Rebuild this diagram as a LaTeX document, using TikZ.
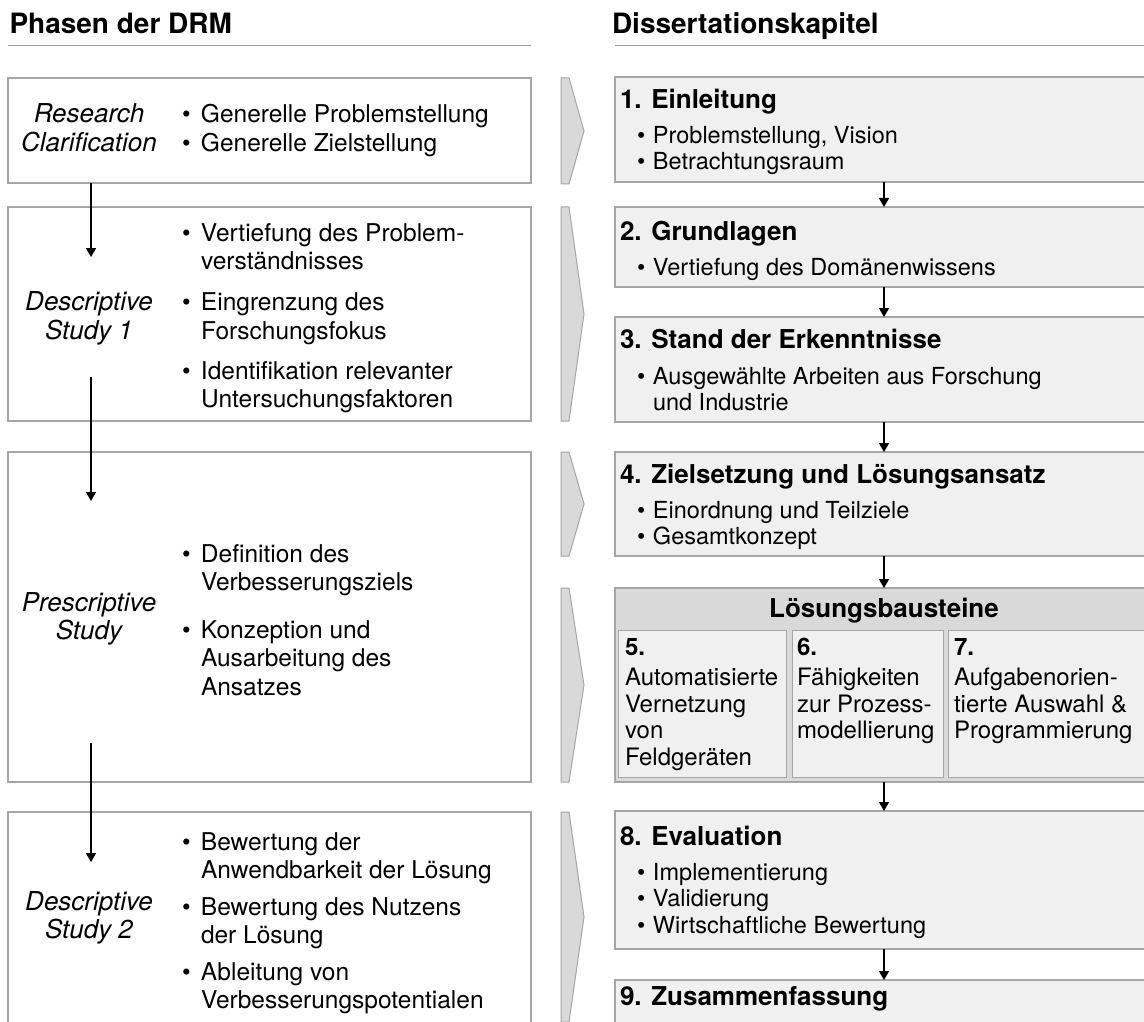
\documentclass[tikz,border=0pt]{standalone}
\usepackage{fontspec}
\setmainfont{TeX Gyre Heros}
\usetikzlibrary{arrows.meta}

\definecolor{frame}{HTML}{A6A6A6}
\definecolor{chapfill}{HTML}{F0F0F0}
\definecolor{groupfill}{HTML}{D9D9D9}
\definecolor{chevfill}{HTML}{D9D9D9}
\definecolor{rulegray}{HTML}{999999}

% bullets with a fixed hanging indent
\newcommand{\lbul}{\makebox[19pt][l]{•}}
\newcommand{\rbul}{\makebox[16pt][l]{•}}
% thin arrow-shaped marker between the two columns
\newcommand{\chevron}[2]{\draw[chev] (561,#1) -- (569,#1) -- (584,{(#1+#2)/2}) -- (569,#2) -- (561,#2) -- cycle;}

\begin{document}
\begin{tikzpicture}[x=1pt,y=-1pt,
  every node/.style={inner sep=0pt, outer sep=0pt},
  panel/.style={draw=frame, line width=1.2pt, anchor=north west, fill=white},
  chap/.style={panel, fill=chapfill},
  grp/.style={panel, fill=groupfill},
  chev/.style={draw=frame, line width=1pt, fill=chevfill},
  flow/.style={line width=1.6pt, -{Triangle[width=10pt,length=9pt]}},
  hdr/.style={anchor=base west, font=\fontsize{28}{32}\selectfont\bfseries},
  hrule/.style={draw=rulegray, line width=1.5pt},
  phase/.style={anchor=base, font=\fontsize{26}{28.5}\selectfont\itshape},
  litem/.style={anchor=base west, font=\fontsize{24.5}{28.5}\selectfont},
  ctitle/.style={anchor=base west, font=\fontsize{26}{30}\selectfont\bfseries},
  citem/.style={anchor=base west, font=\fontsize{23.5}{26.5}\selectfont},
  sitem/.style={anchor=base west, font=\fontsize{24}{26.5}\selectfont},
]
\useasboundingbox (0,0) rectangle (1144,1022);
\fill[white] (0,0) rectangle (1144,1022);
\clip (0,0) rectangle (1144,1022);

% ---------- column headers ----------
\node[hdr] (hl) at (9.5,33.5) {Phasen der DRM};
\node[hdr] (hr) at (612,33.5) {Dissertationskapitel};
\draw[hrule] (8,45.5) -- (531,45.5);
\draw[hrule] (615,45.5) -- (1144,45.5);

% ---------- DRM phases ----------
\node[panel, minimum width=523pt, minimum height=105pt] (ph1) at (8,78) {};
\node[panel, minimum width=523pt, minimum height=214pt] (ph2) at (8,207) {};
\node[panel, minimum width=523pt, minimum height=330pt] (ph3) at (8,452) {};
\node[panel, minimum width=523pt, minimum height=230pt] (ph4) at (8,812) {};

\node[phase] (lb1) at (89,123) {\begin{tabular}[t]{@{}c@{}}Research\\[0.5pt] Clarification\end{tabular}};
\node[phase] (lb2) at (89,310.5) {\begin{tabular}[t]{@{}c@{}}Descriptive\\ Study 1\end{tabular}};
\node[phase] (lb3) at (89,611) {\begin{tabular}[t]{@{}c@{}}Prescriptive\\ Study\end{tabular}};
\node[phase] (lb4) at (89,910) {\begin{tabular}[t]{@{}c@{}}Descriptive\\ Study 2\end{tabular}};

\node[litem] (li1) at (182,123) {\begin{tabular}[t]{@{}l@{}l@{}}
  \lbul & Generelle Problemstellung\\[0.5pt]
  \lbul & Generelle Zielstellung\end{tabular}};
\node[litem] (li2) at (182,241) {\begin{tabular}[t]{@{}l@{}l@{}}
  \lbul & Vertiefung des Problem-\\ & verständnisses\\[12.5pt]
  \lbul & Eingrenzung des\\ & Forschungsfokus\\[12pt]
  \lbul & Identifikation relevanter\\ & Untersuchungsfaktoren\end{tabular}};
\node[litem] (li3) at (182,562) {\begin{tabular}[t]{@{}l@{}l@{}}
  \lbul & Definition des\\ & Verbesserungsziels\\[19pt]
  \lbul & Konzeption und\\ & Ausarbeitung des\\ & Ansatzes\end{tabular}};
\node[litem] (li4) at (182,850) {\begin{tabular}[t]{@{}l@{}l@{}}
  \lbul & Bewertung der\\ & Anwendbarkeit der Lösung\\[8pt]
  \lbul & Bewertung des Nutzens\\ & der Lösung\\[8pt]
  \lbul & Ableitung von\\ & Verbesserungspotentialen\end{tabular}};

% sequence of the phases
\coordinate (a1e) at (91,257);
\coordinate (a2s) at (91,377);
\coordinate (a2e) at (91,501);
\coordinate (a3s) at (91,743);
\coordinate (a3e) at (91,862);
\draw[flow] (ph1.south -| a1e) -- (a1e);
\draw[flow] (a2s) -- (a2e);
\draw[flow] (a3s) -- (a3e);

% ---------- markers between the columns ----------
\chevron{78}{184}
\chevron{207}{421}
\chevron{452}{556}
\chevron{588}{782}
\chevron{812}{1022}

% ---------- chapters ----------
\node[chap, minimum width=538pt, minimum height=105pt] (c1) at (615,77) {};
\node[chap, minimum width=538pt, minimum height=80pt] (c2) at (615,207) {};
\node[chap, minimum width=538pt, minimum height=105pt] (c3) at (615,317) {};
\node[chap, minimum width=538pt, minimum height=104pt] (c4) at (615,452) {};
\node[grp, minimum width=538pt, minimum height=194pt] (lb) at (615,588) {};
\node[chap, minimum width=538pt, minimum height=138pt] (c8) at (615,811) {};
\node[chap, minimum width=538pt, minimum height=100pt] (c9) at (615,980) {};

\node[ctitle] (t1) at (620,108.5) {1. Einleitung};
\node[citem] (i1) at (637,143.5) {\begin{tabular}[t]{@{}l@{}l@{}}
  \rbul & Problemstellung, Vision\\ \rbul & Betrachtungsraum\end{tabular}};
\node[ctitle] (t2) at (620,240.5) {2. Grundlagen};
\node[citem] (i2) at (637,275) {\begin{tabular}[t]{@{}l@{}l@{}}
  \rbul & Vertiefung des Domänenwissens\end{tabular}};
\node[ctitle] (t3) at (620,348.5) {3. Stand der Erkenntnisse};
\node[citem] (i3) at (637,384) {\begin{tabular}[t]{@{}l@{}l@{}}
  \rbul & Ausgewählte Arbeiten aus Forschung\\ & und Industrie\end{tabular}};
\node[ctitle] (t4) at (620,483) {4. Zielsetzung und Lösungsansatz};
\node[citem] (i4) at (637,518) {\begin{tabular}[t]{@{}l@{}l@{}}
  \rbul & Einordnung und Teilziele\\ \rbul & Gesamtkonzept\end{tabular}};

% solution building blocks
\node[anchor=base, font=\fontsize{26}{30}\selectfont\bfseries] (lt) at (884,617) {Lösungsbausteine};
\node[chap, line width=1pt, minimum width=168.5pt, minimum height=147pt] (s5) at (618,630) {};
\node[chap, line width=1pt, minimum width=151pt, minimum height=147pt] (s6) at (792,630) {};
\node[chap, line width=1pt, minimum width=202pt, minimum height=147pt] (s7) at (948,630) {};
\node[sitem] (x5) at (625,655) {\begin{tabular}[t]{@{}l@{}}\textbf{5.}\\[4pt]
  Automatisierte\\ Vernetzung\\ von\\ Feldgeräten\end{tabular}};
\node[sitem] (x6) at (797,655) {\begin{tabular}[t]{@{}l@{}}\textbf{6.}\\[4pt]
  Fähigkeiten\\ zur Prozess-\\ modellierung\end{tabular}};
\node[sitem] (x7) at (954,655) {\begin{tabular}[t]{@{}l@{}}\textbf{7.}\\[4pt]
  Aufgabenorien-\\ tierte Auswahl \&\\ Programmierung\end{tabular}};

\node[ctitle] (t8) at (620,845) {8. Evaluation};
\node[citem] (i8) at (637,880) {\begin{tabular}[t]{@{}l@{}l@{}}
  \rbul & Implementierung\\ \rbul & Validierung\\ \rbul & Wirtschaftliche Bewertung\end{tabular}};
\node[ctitle] (t9) at (620,1005) {9. Zusammenfassung};

% chapter sequence
\draw[flow] (c1.south) -- (c2.north);
\draw[flow] (c2.south) -- (c3.north);
\draw[flow] (c3.south) -- (c4.north);
\draw[flow] (c4.south) -- (lb.north);
\draw[flow] (lb.south) -- (c8.north);
\draw[flow] (c8.south) -- (c9.north);
\end{tikzpicture}
\end{document}
